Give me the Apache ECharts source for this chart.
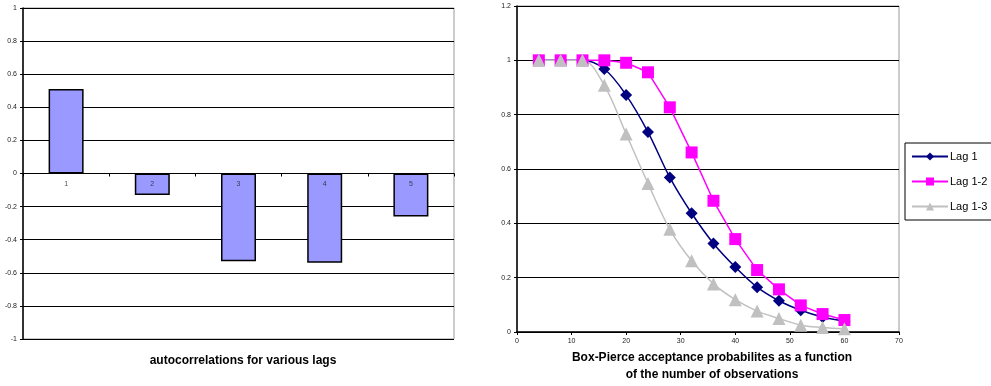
<!DOCTYPE html>
<html>
<head>
<meta charset="utf-8">
<script src="https://cdn.jsdelivr.net/npm/echarts@6/dist/echarts.min.js"></script>
<style>
  html, body { margin: 0; padding: 0; background: #fff; }
  #chart { width: 991px; height: 386px; }
</style>
</head>
<body>
<div id="chart"></div>
<script>
// Autocorrelation per lag (left panel)
const lagLabels = ['1', '2', '3', '4', '5'];
const autocorr = [0.51, -0.13, -0.53, -0.54, -0.26];

// Box-Pierce acceptance probabilities vs number of observations (right panel)
const nObs = [4, 8, 12, 16, 20, 24, 28, 32, 36, 40, 44, 48, 52, 56, 60];
const lag1  = [1, 1, 1, 0.968, 0.872, 0.736, 0.569, 0.437, 0.326, 0.239, 0.165, 0.115, 0.08, 0.055, 0.04];
const lag12 = [1, 1, 1, 1.0, 0.991, 0.956, 0.827, 0.661, 0.483, 0.342, 0.228, 0.157, 0.098, 0.066, 0.044];
const lag13 = [1, 1, 1, 0.908, 0.729, 0.547, 0.378, 0.262, 0.177, 0.119, 0.077, 0.05, 0.025, 0.017, 0.012];

const FONT = '"Liberation Sans", Arial, sans-serif';
const pairs = ys => nObs.map((x, i) => [x, ys[i]]);

const chart = echarts.init(document.getElementById('chart'), null, { renderer: 'canvas' });

chart.setOption({
  animation: false,
  textStyle: { fontFamily: FONT },
  title: [
    {
      text: 'autocorrelations for various lags',
      left: 238, top: 350, textAlign: 'center',
      textStyle: { fontFamily: FONT, fontSize: 12, fontWeight: 'bold', color: '#000' }
    },
    {
      text: 'Box-Pierce acceptance probabilites as a function\nof the number of observations',
      left: 707, top: 344, textAlign: 'center',
      textStyle: { fontFamily: FONT, fontSize: 12, fontWeight: 'bold', color: '#000', lineHeight: 17 }
    }
  ],
  legend: {
    orient: 'vertical',
    left: 905, top: 143,
    padding: [8, 6, 8, 6],
    itemWidth: 36, itemHeight: 10, itemGap: 14,
    borderColor: '#000', borderWidth: 1,
    textStyle: { fontFamily: FONT, fontSize: 11, color: '#000', padding: [0, 0, 0, -3] },
    data: ['Lag 1', 'Lag 1-2', 'Lag 1-3']
  },
  grid: [
    { left: 23, top: 8, width: 431, height: 331, show: true, borderColor: '#999', borderWidth: 1, backgroundColor: '#fff' },
    { left: 517, top: 6, width: 382, height: 326, show: true, borderColor: '#999', borderWidth: 1, backgroundColor: '#fff' }
  ],
  xAxis: [
    {
      gridIndex: 0, type: 'category', data: lagLabels,
      axisLine: { onZero: true, onZeroAxisIndex: 0, lineStyle: { color: '#000', width: 1 } },
      axisTick: { show: true, length: 3, lineStyle: { color: '#000' } },
      // category numbers are drawn on the zero line by the label series below
      axisLabel: { show: false },
      splitLine: { show: false }
    },
    {
      gridIndex: 1, type: 'value', min: 0, max: 70, interval: 10,
      axisLine: { show: true, lineStyle: { color: '#000', width: 1.5 } },
      axisTick: { show: true, length: 3, lineStyle: { color: '#000' } },
      axisLabel: { fontSize: 7, color: '#222', margin: 6 },
      splitLine: { show: false }
    }
  ],
  yAxis: [
    {
      gridIndex: 0, type: 'value', min: -1, max: 1, interval: 0.2,
      axisLine: { show: true, lineStyle: { color: '#000', width: 1.5 } },
      axisTick: { show: true, length: 3, lineStyle: { color: '#000' } },
      axisLabel: { fontSize: 7, color: '#222', margin: 6, formatter: v => String(Math.round(v * 10) / 10) },
      splitLine: { show: true, lineStyle: { color: '#000', width: 1 } }
    },
    {
      gridIndex: 1, type: 'value', min: 0, max: 1.2, interval: 0.2,
      axisLine: { show: true, lineStyle: { color: '#000', width: 1.5 } },
      axisTick: { show: true, length: 3, lineStyle: { color: '#000' } },
      axisLabel: { fontSize: 7, color: '#222', margin: 6, formatter: v => String(Math.round(v * 10) / 10) },
      splitLine: { show: true, lineStyle: { color: '#000', width: 1 } }
    }
  ],
  series: [
    {
      type: 'bar', xAxisIndex: 0, yAxisIndex: 0,
      data: autocorr, barWidth: 35,
      itemStyle: { color: '#9999FF', borderColor: '#000', borderWidth: 1.5 }
    },
    {
      // lag numbers sitting just under the zero line
      type: 'scatter', xAxisIndex: 0, yAxisIndex: 0, silent: true,
      data: lagLabels.map(c => [c, 0]),
      symbol: 'circle', symbolSize: 1, z: 5,
      itemStyle: { color: 'rgba(0,0,0,0)' },
      label: {
        show: true, position: 'bottom', distance: 7,
        fontFamily: FONT, fontSize: 7, color: '#222',
        formatter: p => p.value[0]
      }
    },
    {
      name: 'Lag 1', type: 'line', xAxisIndex: 1, yAxisIndex: 1,
      data: pairs(lag1), smooth: 0.35,
      symbol: 'diamond', symbolSize: 12,
      lineStyle: { color: '#000080', width: 1.5 },
      itemStyle: { color: '#000080' }
    },
    {
      name: 'Lag 1-2', type: 'line', xAxisIndex: 1, yAxisIndex: 1,
      data: pairs(lag12), smooth: false,
      symbol: 'rect', symbolSize: 12,
      lineStyle: { color: '#FF00FF', width: 1.5 },
      itemStyle: { color: '#FF00FF' }
    },
    {
      name: 'Lag 1-3', type: 'line', xAxisIndex: 1, yAxisIndex: 1,
      data: pairs(lag13), smooth: 0.35,
      symbol: 'triangle', symbolSize: 13,
      lineStyle: { color: '#C0C0C0', width: 1.5 },
      itemStyle: { color: '#C0C0C0' }
    }
  ]
});
</script>
</body>
</html>
